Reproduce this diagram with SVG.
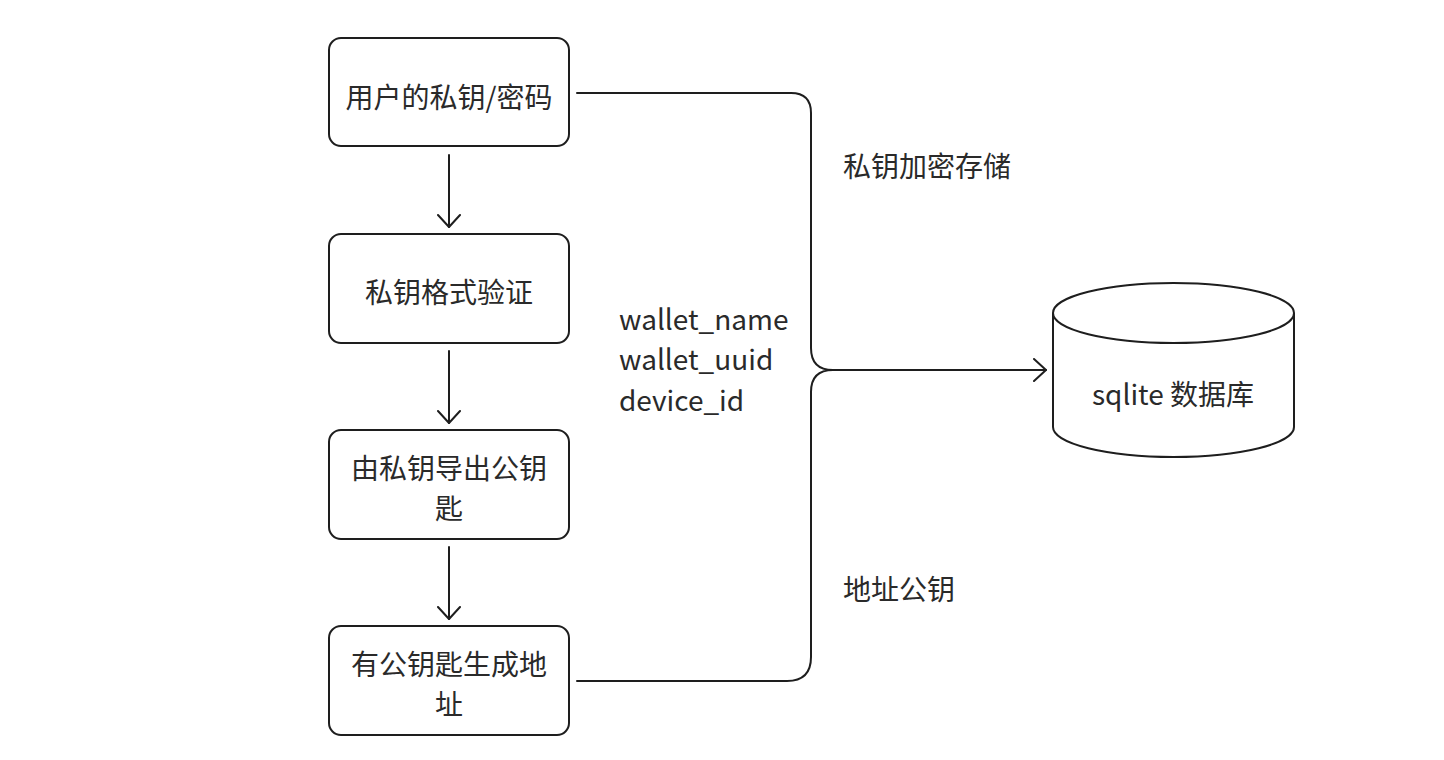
<svg xmlns="http://www.w3.org/2000/svg" width="1444" height="760" viewBox="0 0 1444 760">
<defs>
<style>
.box{fill:#fff;stroke:#1e1e1e;stroke-width:2}
.t{font-family:"Noto Sans CJK SC","Noto Sans",sans-serif;font-size:28px;fill:#2a2a2a}
.c{text-anchor:middle}
.ln{fill:none;stroke:#1e1e1e;stroke-width:2;stroke-linecap:round;stroke-linejoin:round}
</style>
<marker id="ah" viewBox="0 0 14 24" refX="13" refY="12" markerWidth="14" markerHeight="24" markerUnits="userSpaceOnUse" orient="auto">
<path d="M1 1 L13 12 L1 23" fill="none" stroke="#1e1e1e" stroke-width="2" stroke-linejoin="round" stroke-linecap="round"/>
</marker>
</defs>
<rect width="1444" height="760" fill="#fff"/>
<g id="n1"><rect class="box" x="329" y="38" width="240" height="108" rx="12"/><text class="t c" x="449" y="96" dominant-baseline="central">用户的私钥/密码</text></g>
<g id="n2"><rect class="box" x="329" y="234" width="240" height="109" rx="12"/><text class="t c" x="449" y="291" dominant-baseline="central">私钥格式验证</text></g>
<g id="n3"><rect class="box" x="329" y="430" width="240" height="109" rx="12"/><text class="t c" x="449" y="467" dominant-baseline="central">由私钥导出公钥</text><text class="t c" x="449" y="507" dominant-baseline="central">匙</text></g>
<g id="n4"><rect class="box" x="329" y="626" width="240" height="109" rx="12"/><text class="t c" x="449" y="663" dominant-baseline="central">有公钥匙生成地</text><text class="t c" x="449" y="703" dominant-baseline="central">址</text></g>
<g id="db"><path class="box" d="M1053 313 V427 A120.5 30 0 0 0 1294 427 V313"/><ellipse class="box" cx="1173.5" cy="313" rx="120.5" ry="30"/><text class="t c" x="1173" y="393" dominant-baseline="central">sqlite 数据库</text></g>
<g id="labels">
<text class="t" x="843" y="165" dominant-baseline="central">私钥加密存储</text>
<text class="t" x="843" y="588" dominant-baseline="central">地址公钥</text>
<text class="t" x="619" y="318" dominant-baseline="central">wallet_name</text>
<text class="t" x="619" y="358" dominant-baseline="central">wallet_uuid</text>
<text class="t" x="619" y="399" dominant-baseline="central">device_id</text>
</g>
<g id="connectors">
<line class="ln" x1="449" y1="155" x2="449" y2="227" marker-end="url(#ah)"/>
<line class="ln" x1="449" y1="351" x2="449" y2="423" marker-end="url(#ah)"/>
<line class="ln" x1="449" y1="547" x2="449" y2="619" marker-end="url(#ah)"/>
<path class="ln" d="M577 93 H791 Q811 93 811 113 V348 Q811 370 833 370 Q811 370 811 392 V657 Q811 681 787 681 H577"/>
<line class="ln" x1="833" y1="370" x2="1046" y2="370" marker-end="url(#ah)"/>
</g>
</svg>
